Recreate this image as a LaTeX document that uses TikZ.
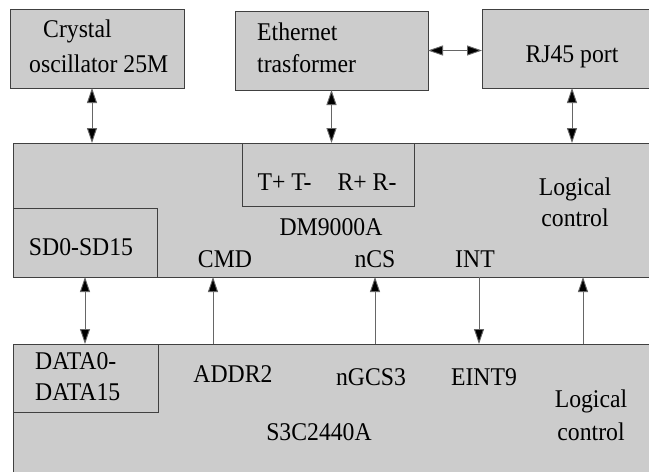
\documentclass[tikz,border=0pt]{standalone}
\usepackage{fontspec}
\setmainfont{Liberation Serif}[FakeStretch=0.93]
\usetikzlibrary{arrows.meta}
\newcommand\labfont{\fontsize{25.5}{32}\selectfont}
\tikzset{
  box/.style={draw=black!75, fill=gray!40, line width=0.9pt, inner sep=0pt, outer sep=0pt, anchor=north west},
  lab/.style={font=\labfont, inner sep=0pt, anchor=base},
  link/.style={draw=black!60, line width=0.9pt},
  tip/.tip={Triangle[length=15pt, width=10pt, fill=black]},
}
\begin{document}
\begin{tikzpicture}[x=1pt, y=-1pt]
\clip (0,0) rectangle (649,472);
\fill[white] (0,0) rectangle (649,472);
\node[box, minimum width=174pt, minimum height=79pt] (xtal) at (10,9) {};
\node[box, minimum width=193pt, minimum height=79pt] (eth) at (235,11) {};
\node[box, minimum width=180pt, minimum height=79pt] (rj) at (482,9) {};
\node[box, minimum width=700pt, minimum height=134pt] (dm) at (13,143) {};
\node[box, minimum width=172pt, minimum height=63pt] (tr) at (242,143) {};
\node[box, minimum width=144pt, minimum height=69pt] (sd) at (13,208) {};
\node[box, minimum width=700pt, minimum height=160pt] (soc) at (13,344) {};
\node[box, minimum width=145pt, minimum height=68pt] (data) at (13,344) {};
\node[lab, anchor=base west, align=left, font=\fontsize{25.5}{35}\selectfont] (xtaltxt) at (29,72) {\hspace*{14pt}Crystal\\oscillator 25M};
\node[lab, anchor=base west, align=left] (ethtxt) at (257,72) {Ethernet\\trasformer};
\node[lab] (rjtxt) at (572,62) {RJ45 port};
\node[lab] (trtxt) at (327,190) {T+ T-\hspace{26pt}R+ R-};
\node[lab] (dmtxt) at (331,235) {DM9000A};
\node[lab, align=center, font=\fontsize{25.5}{31}\selectfont] (dmlog) at (575,226) {Logical\\control};
\node[lab] (sdtxt) at (81,255) {SD0-SD15};
\node[lab] (cmd) at (225,267) {CMD};
\node[lab] (ncs) at (375,267) {nCS};
\node[lab] (int) at (475,267) {INT};
\node[lab, anchor=base west, align=left, font=\fontsize{25.5}{31}\selectfont] (datatxt) at (35,400) {DATA0-\\DATA15};
\node[lab] (addr) at (233,382) {ADDR2};
\node[lab] (ngcs) at (371,385) {nGCS3};
\node[lab] (eint) at (484,385) {EINT9};
\node[lab, align=center, font=\fontsize{25.5}{33}\selectfont] (soclog) at (591,440) {Logical\\control};
\node[lab] (soctxt) at (319,440) {S3C2440A};
\coordinate (pcmd) at (213,277);
\coordinate (pncs) at (375,277);
\coordinate (pint) at (479,277);
\coordinate (plog) at (583,277);
\coordinate (pxtal) at (92,88);
\draw[link, tip-tip] (pxtal) -- (pxtal |- dm.north);
\draw[link, tip-tip] (eth.south) -- (eth.south |- dm.north);
\draw[link, tip-tip] (rj.south) -- (rj.south |- dm.north);
\draw[link, tip-tip] (eth.east) -- (eth.east -| rj.west);
\draw[link, tip-tip] (sd.south) -- (sd.south |- soc.north);
\draw[link, -tip] (pcmd |- soc.north) -- (pcmd);
\draw[link, -tip] (pncs |- soc.north) -- (pncs);
\draw[link, tip-] (pint |- soc.north) -- (pint);
\draw[link, -tip] (plog |- soc.north) -- (plog);
\end{tikzpicture}
\end{document}
